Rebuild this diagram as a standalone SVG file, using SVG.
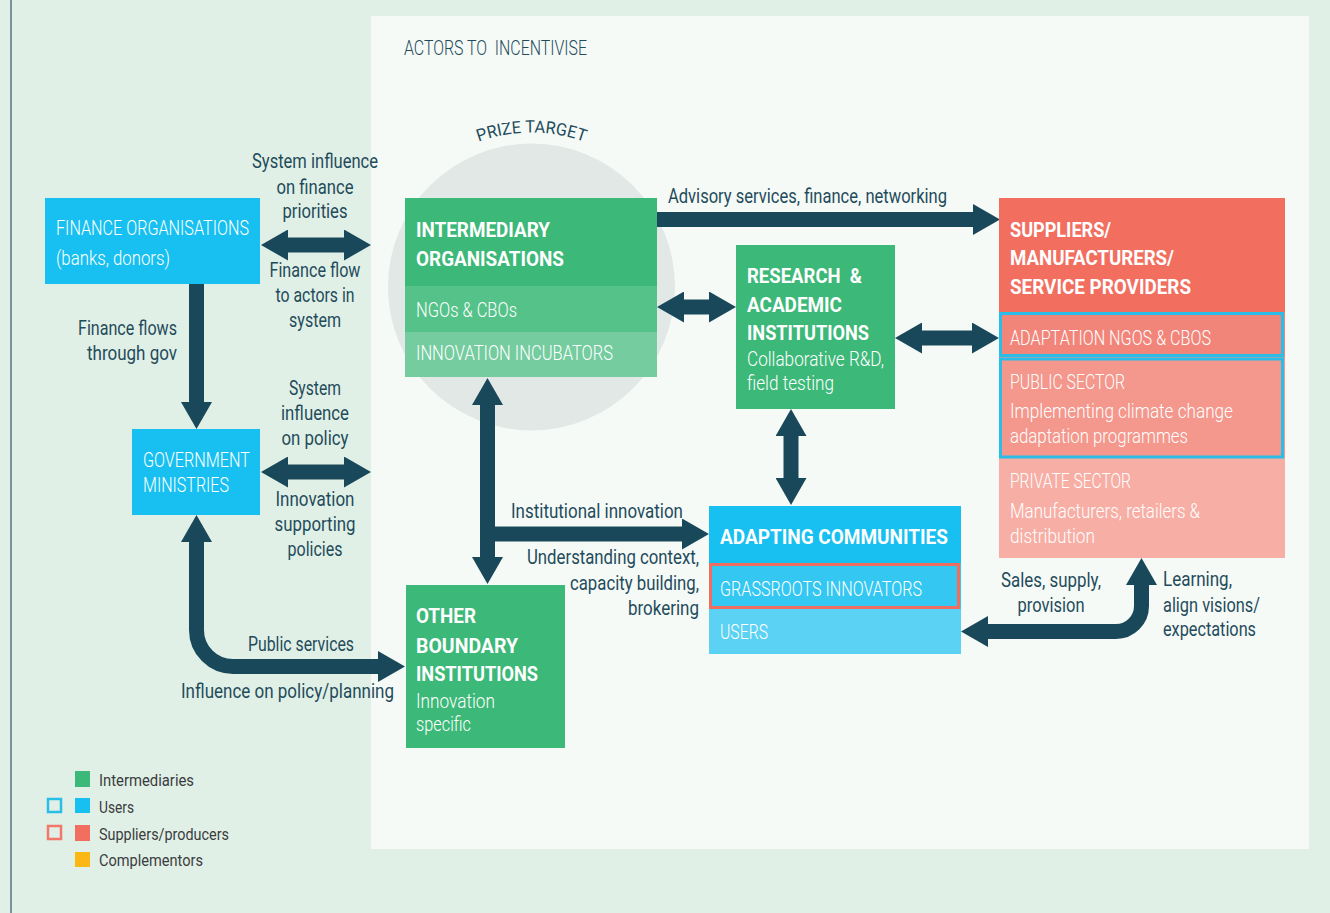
<svg xmlns="http://www.w3.org/2000/svg" width="1330" height="913" viewBox="0 0 1330 913">
<style>
text{font-family:Roboto,"Liberation Sans",sans-serif}
.lb{font-size:20px;fill:#1f4b5b}
.c{text-anchor:middle}
.e{text-anchor:end}
.wl{font-size:20px;fill:#fff;font-weight:300}
.b{font-size:21px;fill:#fff;font-weight:700}
.lg{font-size:16px;fill:#3a3d3f}
.conn path{fill:none;stroke:#19485a;stroke-width:15;marker-end:url(#ah)}
.conn path.dbl{marker-start:url(#ah)}
</style>
<defs>
<marker id="ah" viewBox="0 0 27 31" refX="0" refY="15.5" markerWidth="27" markerHeight="31" markerUnits="userSpaceOnUse" orient="auto-start-reverse"><path d="M0,0 L27,15.5 L0,31 Z" fill="#19485a"/></marker>
</defs>
<rect width="1330" height="913" fill="#e1f0e6"/>
<line x1="11" y1="0" x2="11" y2="913" stroke="#7a959b" stroke-width="2"/>
<rect x="371" y="16" width="938" height="833" fill="#f5faf7"/>
<text x="404" y="55" font-size="20" font-weight="300" fill="#1f4b5b" textLength="183" lengthAdjust="spacingAndGlyphs" xml:space="preserve">ACTORS TO  INCENTIVISE</text>

<g id="prize-target">
<circle cx="531.5" cy="287" r="143.5" fill="#e2e8e6"/>
<path id="arc" d="M377,287 A154.5,154.5 0 0 1 686,287" fill="none"/>
<text font-size="17" fill="#1f4b5b"><textPath href="#arc" startOffset="50%" text-anchor="middle" textLength="108" lengthAdjust="spacingAndGlyphs">PRIZE TARGET</textPath></text>
</g>

<g class="conn" id="connectors">
<path class="dbl" d="M288,245 H344"/>
<path class="dbl" d="M288,472 H344"/>
<path d="M196.5,284 V402"/>
<path class="dbl" d="M196.5,542 V630 A36.5,36.5 0 0 0 233,666.5 H378"/>
<path d="M657,219.5 H973"/>
<path class="dbl" d="M684,307 H709"/>
<path class="dbl" d="M922,338 H972"/>
<path class="dbl" d="M791,436 V478"/>
<path class="dbl" d="M487.5,405 V557"/>
<path d="M487.5,534 H682"/>
<path class="dbl" d="M988,631.5 H1116 A25.5,25.5 0 0 0 1141.5,606 V585"/>
</g>

<g id="labels">
<text class="lb c" x="315" y="168" textLength="126" lengthAdjust="spacingAndGlyphs">System influence</text>
<text class="lb c" x="315" y="194" textLength="77" lengthAdjust="spacingAndGlyphs">on finance</text>
<text class="lb c" x="315" y="218" textLength="65" lengthAdjust="spacingAndGlyphs">priorities</text>
<text class="lb c" x="315" y="277" textLength="91" lengthAdjust="spacingAndGlyphs">Finance flow</text>
<text class="lb c" x="315" y="302" textLength="79" lengthAdjust="spacingAndGlyphs">to actors in</text>
<text class="lb c" x="315" y="327" textLength="52" lengthAdjust="spacingAndGlyphs">system</text>
<text class="lb e" x="177" y="335" textLength="99" lengthAdjust="spacingAndGlyphs">Finance flows</text>
<text class="lb e" x="177" y="360" textLength="90" lengthAdjust="spacingAndGlyphs">through gov</text>
<text class="lb c" x="315" y="395" textLength="52" lengthAdjust="spacingAndGlyphs">System</text>
<text class="lb c" x="315" y="420" textLength="68" lengthAdjust="spacingAndGlyphs">influence</text>
<text class="lb c" x="315" y="445" textLength="67" lengthAdjust="spacingAndGlyphs">on policy</text>
<text class="lb c" x="315" y="506" textLength="79" lengthAdjust="spacingAndGlyphs">Innovation</text>
<text class="lb c" x="315" y="531" textLength="81" lengthAdjust="spacingAndGlyphs">supporting</text>
<text class="lb c" x="315" y="556" textLength="55" lengthAdjust="spacingAndGlyphs">policies</text>
<text class="lb e" x="354" y="651" textLength="106" lengthAdjust="spacingAndGlyphs">Public services</text>
<text class="lb" x="181" y="698" textLength="213" lengthAdjust="spacingAndGlyphs">Influence on policy/planning</text>
<text class="lb" x="668" y="203" textLength="279" lengthAdjust="spacingAndGlyphs">Advisory services, finance, networking</text>
<text class="lb" x="511" y="518" textLength="172" lengthAdjust="spacingAndGlyphs">Institutional innovation</text>
<text class="lb e" x="699" y="564" textLength="172" lengthAdjust="spacingAndGlyphs">Understanding context,</text>
<text class="lb e" x="699" y="590" textLength="129" lengthAdjust="spacingAndGlyphs">capacity building,</text>
<text class="lb e" x="699" y="615" textLength="71" lengthAdjust="spacingAndGlyphs">brokering</text>
<text class="lb c" x="1051" y="587" textLength="100" lengthAdjust="spacingAndGlyphs">Sales, supply,</text>
<text class="lb c" x="1051" y="612" textLength="67" lengthAdjust="spacingAndGlyphs">provision</text>
<text class="lb" x="1163" y="586" textLength="69" lengthAdjust="spacingAndGlyphs">Learning,</text>
<text class="lb" x="1163" y="612" textLength="97" lengthAdjust="spacingAndGlyphs">align visions/</text>
<text class="lb" x="1163" y="636" textLength="93" lengthAdjust="spacingAndGlyphs">expectations</text>
</g>

<g id="finance-organisations">
<rect x="45" y="198" width="215" height="86" fill="#17c0f0"/>
<text class="wl" x="56" y="235" textLength="193" lengthAdjust="spacingAndGlyphs">FINANCE ORGANISATIONS</text>
<text class="wl" x="56" y="265" textLength="114" lengthAdjust="spacingAndGlyphs">(banks, donors)</text>
</g>

<g id="government-ministries">
<rect x="132" y="429" width="128" height="86" fill="#17c0f0"/>
<text class="wl" x="143" y="467" textLength="107" lengthAdjust="spacingAndGlyphs">GOVERNMENT</text>
<text class="wl" x="143" y="492" textLength="86" lengthAdjust="spacingAndGlyphs">MINISTRIES</text>
</g>

<g id="intermediary-organisations">
<rect x="405" y="198" width="252" height="88" fill="#3cb878"/>
<rect x="405" y="286" width="252" height="46" fill="#55c28a"/>
<rect x="405" y="332" width="252" height="45" fill="#74cc9f"/>
<text class="b" x="416" y="237" textLength="134" lengthAdjust="spacingAndGlyphs">INTERMEDIARY</text>
<text class="b" x="416" y="266" textLength="148" lengthAdjust="spacingAndGlyphs">ORGANISATIONS</text>
<text class="wl" x="416" y="317" textLength="101" lengthAdjust="spacingAndGlyphs">NGOs &amp; CBOs</text>
<text class="wl" x="416" y="360" textLength="197" lengthAdjust="spacingAndGlyphs">INNOVATION INCUBATORS</text>
</g>

<g id="research-academic">
<rect x="736" y="245" width="159" height="164" fill="#3cb878"/>
<text class="b" x="747" y="283" textLength="115" lengthAdjust="spacingAndGlyphs" xml:space="preserve">RESEARCH  &amp;</text>
<text class="b" x="747" y="312" textLength="95" lengthAdjust="spacingAndGlyphs">ACADEMIC</text>
<text class="b" x="747" y="340" textLength="122" lengthAdjust="spacingAndGlyphs">INSTITUTIONS</text>
<text class="wl" x="747" y="366" textLength="137" lengthAdjust="spacingAndGlyphs">Collaborative R&amp;D,</text>
<text class="wl" x="747" y="390" textLength="87" lengthAdjust="spacingAndGlyphs">field testing</text>
</g>

<g id="suppliers">
<rect x="999" y="198" width="286" height="114" fill="#f26e5f"/>
<rect x="999" y="312" width="286" height="45" fill="#f2857a"/>
<rect x="999" y="357" width="286" height="101" fill="#f4978c"/>
<rect x="999" y="458" width="286" height="100" fill="#f7aea5"/>
<rect x="1000.5" y="313.5" width="282" height="42" fill="none" stroke="#29bde8" stroke-width="3"/>
<rect x="1000.5" y="359" width="282" height="98" fill="none" stroke="#29bde8" stroke-width="3"/>
<text class="b" x="1010" y="237" textLength="101" lengthAdjust="spacingAndGlyphs">SUPPLIERS/</text>
<text class="b" x="1010" y="265" textLength="164" lengthAdjust="spacingAndGlyphs">MANUFACTURERS/</text>
<text class="b" x="1010" y="294" textLength="181" lengthAdjust="spacingAndGlyphs">SERVICE PROVIDERS</text>
<text class="wl" x="1010" y="345" textLength="201" lengthAdjust="spacingAndGlyphs">ADAPTATION NGOS &amp; CBOS</text>
<text class="wl" x="1010" y="389" textLength="115" lengthAdjust="spacingAndGlyphs">PUBLIC SECTOR</text>
<text class="wl" x="1010" y="418" textLength="223" lengthAdjust="spacingAndGlyphs">Implementing climate change</text>
<text class="wl" x="1010" y="443" textLength="178" lengthAdjust="spacingAndGlyphs">adaptation programmes</text>
<text class="wl" x="1010" y="488" textLength="121" lengthAdjust="spacingAndGlyphs">PRIVATE SECTOR</text>
<text class="wl" x="1010" y="518" textLength="190" lengthAdjust="spacingAndGlyphs">Manufacturers, retailers &amp;</text>
<text class="wl" x="1010" y="543" textLength="85" lengthAdjust="spacingAndGlyphs">distribution</text>
</g>

<g id="adapting-communities">
<rect x="709" y="506" width="252" height="57" fill="#17c0f0"/>
<rect x="709" y="563" width="252" height="46" fill="#33c7f1"/>
<rect x="709" y="609" width="252" height="45" fill="#5bd1f3"/>
<rect x="710.5" y="564.5" width="248" height="43" fill="none" stroke="#f06e5f" stroke-width="3"/>
<text class="b" x="720" y="544" textLength="228" lengthAdjust="spacingAndGlyphs">ADAPTING COMMUNITIES</text>
<text class="wl" x="720" y="596" textLength="202" lengthAdjust="spacingAndGlyphs">GRASSROOTS INNOVATORS</text>
<text class="wl" x="720" y="639" textLength="48" lengthAdjust="spacingAndGlyphs">USERS</text>
</g>

<g id="other-boundary">
<rect x="406" y="585" width="159" height="163" fill="#3cb878"/>
<text class="b" x="416" y="623" textLength="60" lengthAdjust="spacingAndGlyphs">OTHER</text>
<text class="b" x="416" y="653" textLength="102" lengthAdjust="spacingAndGlyphs">BOUNDARY</text>
<text class="b" x="416" y="681" textLength="122" lengthAdjust="spacingAndGlyphs">INSTITUTIONS</text>
<text class="wl" x="416" y="708" font-size="19" textLength="79" lengthAdjust="spacingAndGlyphs">Innovation</text>
<text class="wl" x="416" y="731" font-size="19" textLength="55" lengthAdjust="spacingAndGlyphs">specific</text>
</g>

<g id="legend">
<rect x="75" y="771" width="15" height="16" fill="#3cb878"/>
<rect x="75" y="798" width="15" height="15" fill="#17c0f0"/>
<rect x="75" y="825" width="15" height="16" fill="#f26e5f"/>
<rect x="75" y="852" width="15" height="15" fill="#fbb714"/>
<rect x="48" y="799" width="13" height="13" fill="none" stroke="#29bde8" stroke-width="2.5"/>
<rect x="48" y="826" width="13" height="13" fill="none" stroke="#f0796b" stroke-width="2.5"/>
<text class="lg" x="99" y="786" textLength="95" lengthAdjust="spacingAndGlyphs">Intermediaries</text>
<text class="lg" x="99" y="813" textLength="35" lengthAdjust="spacingAndGlyphs">Users</text>
<text class="lg" x="99" y="840" textLength="130" lengthAdjust="spacingAndGlyphs">Suppliers/producers</text>
<text class="lg" x="99" y="866" textLength="104" lengthAdjust="spacingAndGlyphs">Complementors</text>
</g>
</svg>
